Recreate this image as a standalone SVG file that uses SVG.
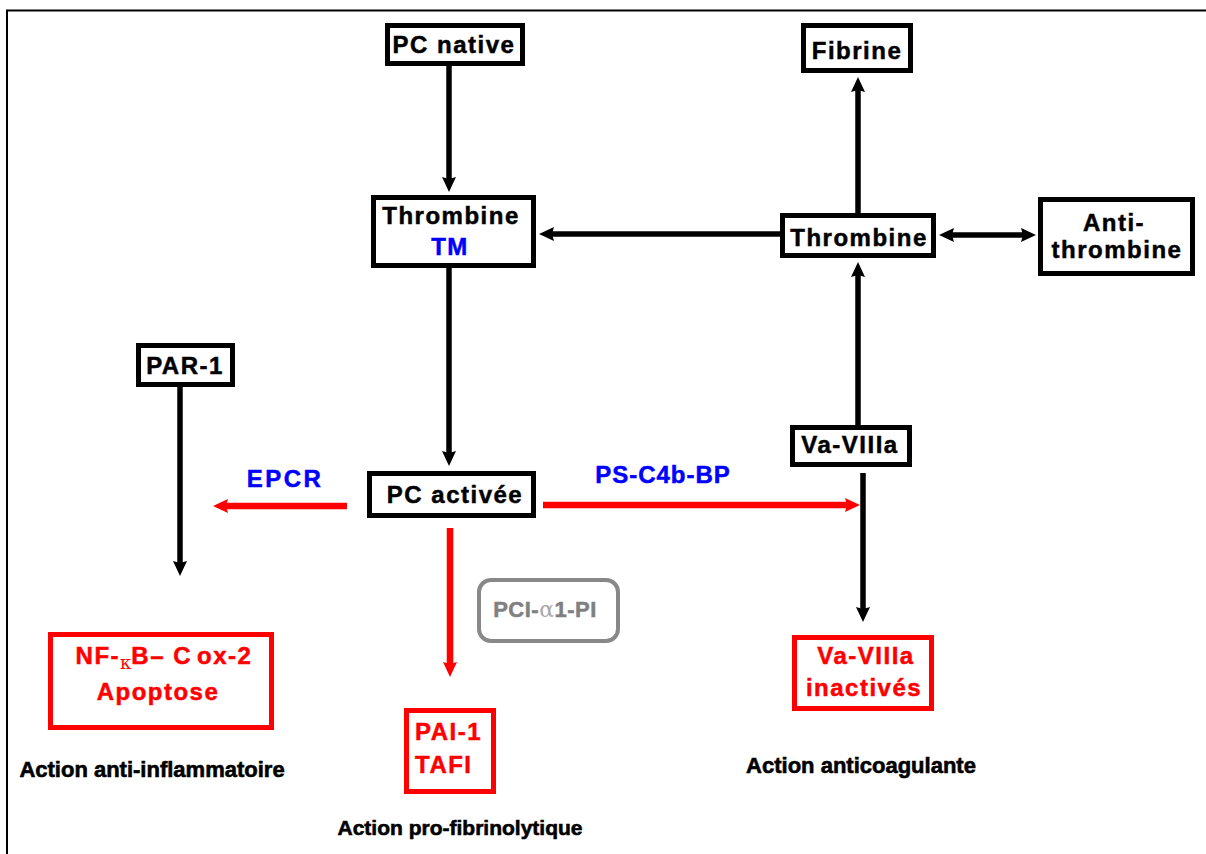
<svg xmlns="http://www.w3.org/2000/svg" width="1206" height="854" viewBox="0 0 1206 854">
<style>
.box{fill:#fff;stroke:#000;stroke-width:5}
.rbox{fill:#fff;stroke:#f00;stroke-width:5}
.gbox{fill:#fff;stroke:#888;stroke-width:4}
.t{font-family:"Liberation Sans",Arial,sans-serif;font-weight:bold;font-size:24px;letter-spacing:1.5px;text-anchor:middle;fill:#000;stroke:#000;stroke-width:0.5}
.red{fill:#f00;stroke:#f00}
.blue{fill:#00f;stroke:#00f}
.lbl{font-family:"Liberation Sans",Arial,sans-serif;font-weight:bold;font-size:22px;text-anchor:middle;fill:#000;stroke:#000;stroke-width:0.6}
.blk{fill:none;stroke:#000;stroke-width:5.5}
.rd{fill:none;stroke:#f00;stroke-width:6.5}
</style>
<defs>
<marker id="ab" markerUnits="userSpaceOnUse" markerWidth="17" markerHeight="15" refX="2" refY="7" orient="auto-start-reverse">
<path d="M0,0 L15,7 L0,14 L2,7 Z" fill="#000"/>
</marker>
<marker id="ar" markerUnits="userSpaceOnUse" markerWidth="17" markerHeight="15" refX="2" refY="7" orient="auto">
<path d="M0,0 L15,7 L0,14 L2,7 Z" fill="#f00"/>
</marker>
</defs>
<rect width="1206" height="854" fill="#fff"/>
<path d="M7,854 V10.5 H1206" fill="none" stroke="#000" stroke-width="2"/>

<g id="connectors">
<line class="blk" x1="449" y1="66" x2="449" y2="179" marker-end="url(#ab)"/>
<line class="blk" x1="449" y1="268" x2="449" y2="453" marker-end="url(#ab)"/>
<line class="blk" x1="781" y1="234" x2="552" y2="234" marker-end="url(#ab)"/>
<line class="blk" x1="858" y1="213" x2="858" y2="90" marker-end="url(#ab)"/>
<line class="blk" x1="858" y1="425" x2="858" y2="275" marker-end="url(#ab)"/>
<line class="blk" x1="952" y1="235" x2="1023" y2="235" marker-start="url(#ab)" marker-end="url(#ab)"/>
<line class="blk" x1="180" y1="387" x2="180" y2="563" marker-end="url(#ab)"/>
<line class="blk" x1="863" y1="473" x2="863" y2="609" marker-end="url(#ab)"/>
<line class="rd" x1="347" y1="506" x2="226" y2="506" marker-end="url(#ar)"/>
<line class="rd" x1="543" y1="505" x2="847" y2="505" marker-end="url(#ar)"/>
<line class="rd" x1="450" y1="528" x2="450" y2="664" marker-end="url(#ar)"/>
</g>

<g id="pc-native">
<rect class="box" x="387.5" y="25.5" width="135" height="38"/>
<text class="t" x="454" y="53">PC native</text>
</g>
<g id="thrombine-tm">
<rect class="box" x="373.5" y="197.5" width="160" height="68"/>
<text class="t" x="451" y="224">Thrombine</text>
<text class="t blue" x="450" y="255">TM</text>
</g>
<g id="fibrine">
<rect class="box" x="803.5" y="25.5" width="107" height="45"/>
<text class="t" x="857" y="59">Fibrine</text>
</g>
<g id="thrombine">
<rect class="box" x="782.5" y="215.5" width="151" height="40"/>
<text class="t" x="859" y="246">Thrombine</text>
</g>
<g id="antithrombine">
<rect class="box" x="1040.5" y="199.5" width="152" height="74"/>
<text class="t" x="1114" y="231">Anti-</text>
<text class="t" x="1117" y="258">thrombine</text>
</g>
<g id="par1">
<rect class="box" x="138.5" y="345.5" width="94" height="39"/>
<text class="t" x="185" y="374">PAR-1</text>
</g>
<g id="pc-activee">
<rect class="box" x="369.5" y="473.5" width="164" height="42"/>
<text class="t" x="455" y="503">PC activée</text>
</g>
<g id="va-viiia">
<rect class="box" x="792.5" y="427.5" width="117" height="37"/>
<text class="t" x="850" y="453">Va-VIIIa</text>
</g>
<g id="epcr">
<text class="t blue" x="285" y="487" style="letter-spacing:2.5px">EPCR</text>
</g>
<g id="ps-c4b-bp">
<text class="t blue" x="663" y="483" style="letter-spacing:1px">PS-C4b-BP</text>
</g>
<g id="pci">
<rect class="gbox" x="479" y="580" width="139" height="61" rx="12"/>
<text class="t" x="545" y="617" style="fill:#808080;stroke:#808080;font-size:22px;letter-spacing:0.5px">PCI-<tspan style="font-family:'DejaVu Serif',serif;font-weight:normal;fill:#a8a8a8;stroke:none">α</tspan>1-PI</text>
</g>
<g id="nfkb">
<rect class="rbox" x="50.5" y="634.5" width="221" height="93"/>
<text class="t red" x="164" y="664">NF-<tspan dy="5" style="font-family:'DejaVu Serif',serif;font-weight:normal;font-size:18px;letter-spacing:0;stroke:none">κ</tspan><tspan dy="-5">B– C<tspan dx="5">ox-2</tspan></tspan></text>
<text class="t red" x="158" y="700">Apoptose</text>
</g>
<g id="pai1">
<rect class="rbox" x="406.5" y="710.5" width="87" height="81"/>
<text class="t red" x="415" y="740" style="text-anchor:start">PAI-1</text>
<text class="t red" x="415" y="773" style="text-anchor:start">TAFI</text>
</g>
<g id="va-inact">
<rect class="rbox" x="794.5" y="637.5" width="137" height="71"/>
<text class="t red" x="866" y="664">Va-VIIIa</text>
<text class="t red" x="864" y="696">inactivés</text>
</g>
<g id="labels">
<text class="lbl" x="152" y="777">Action anti-inflammatoire</text>
<text class="lbl" x="460" y="835" style="font-size:21px">Action pro-fibrinolytique</text>
<text class="lbl" x="861" y="773">Action anticoagulante</text>
</g>
</svg>
